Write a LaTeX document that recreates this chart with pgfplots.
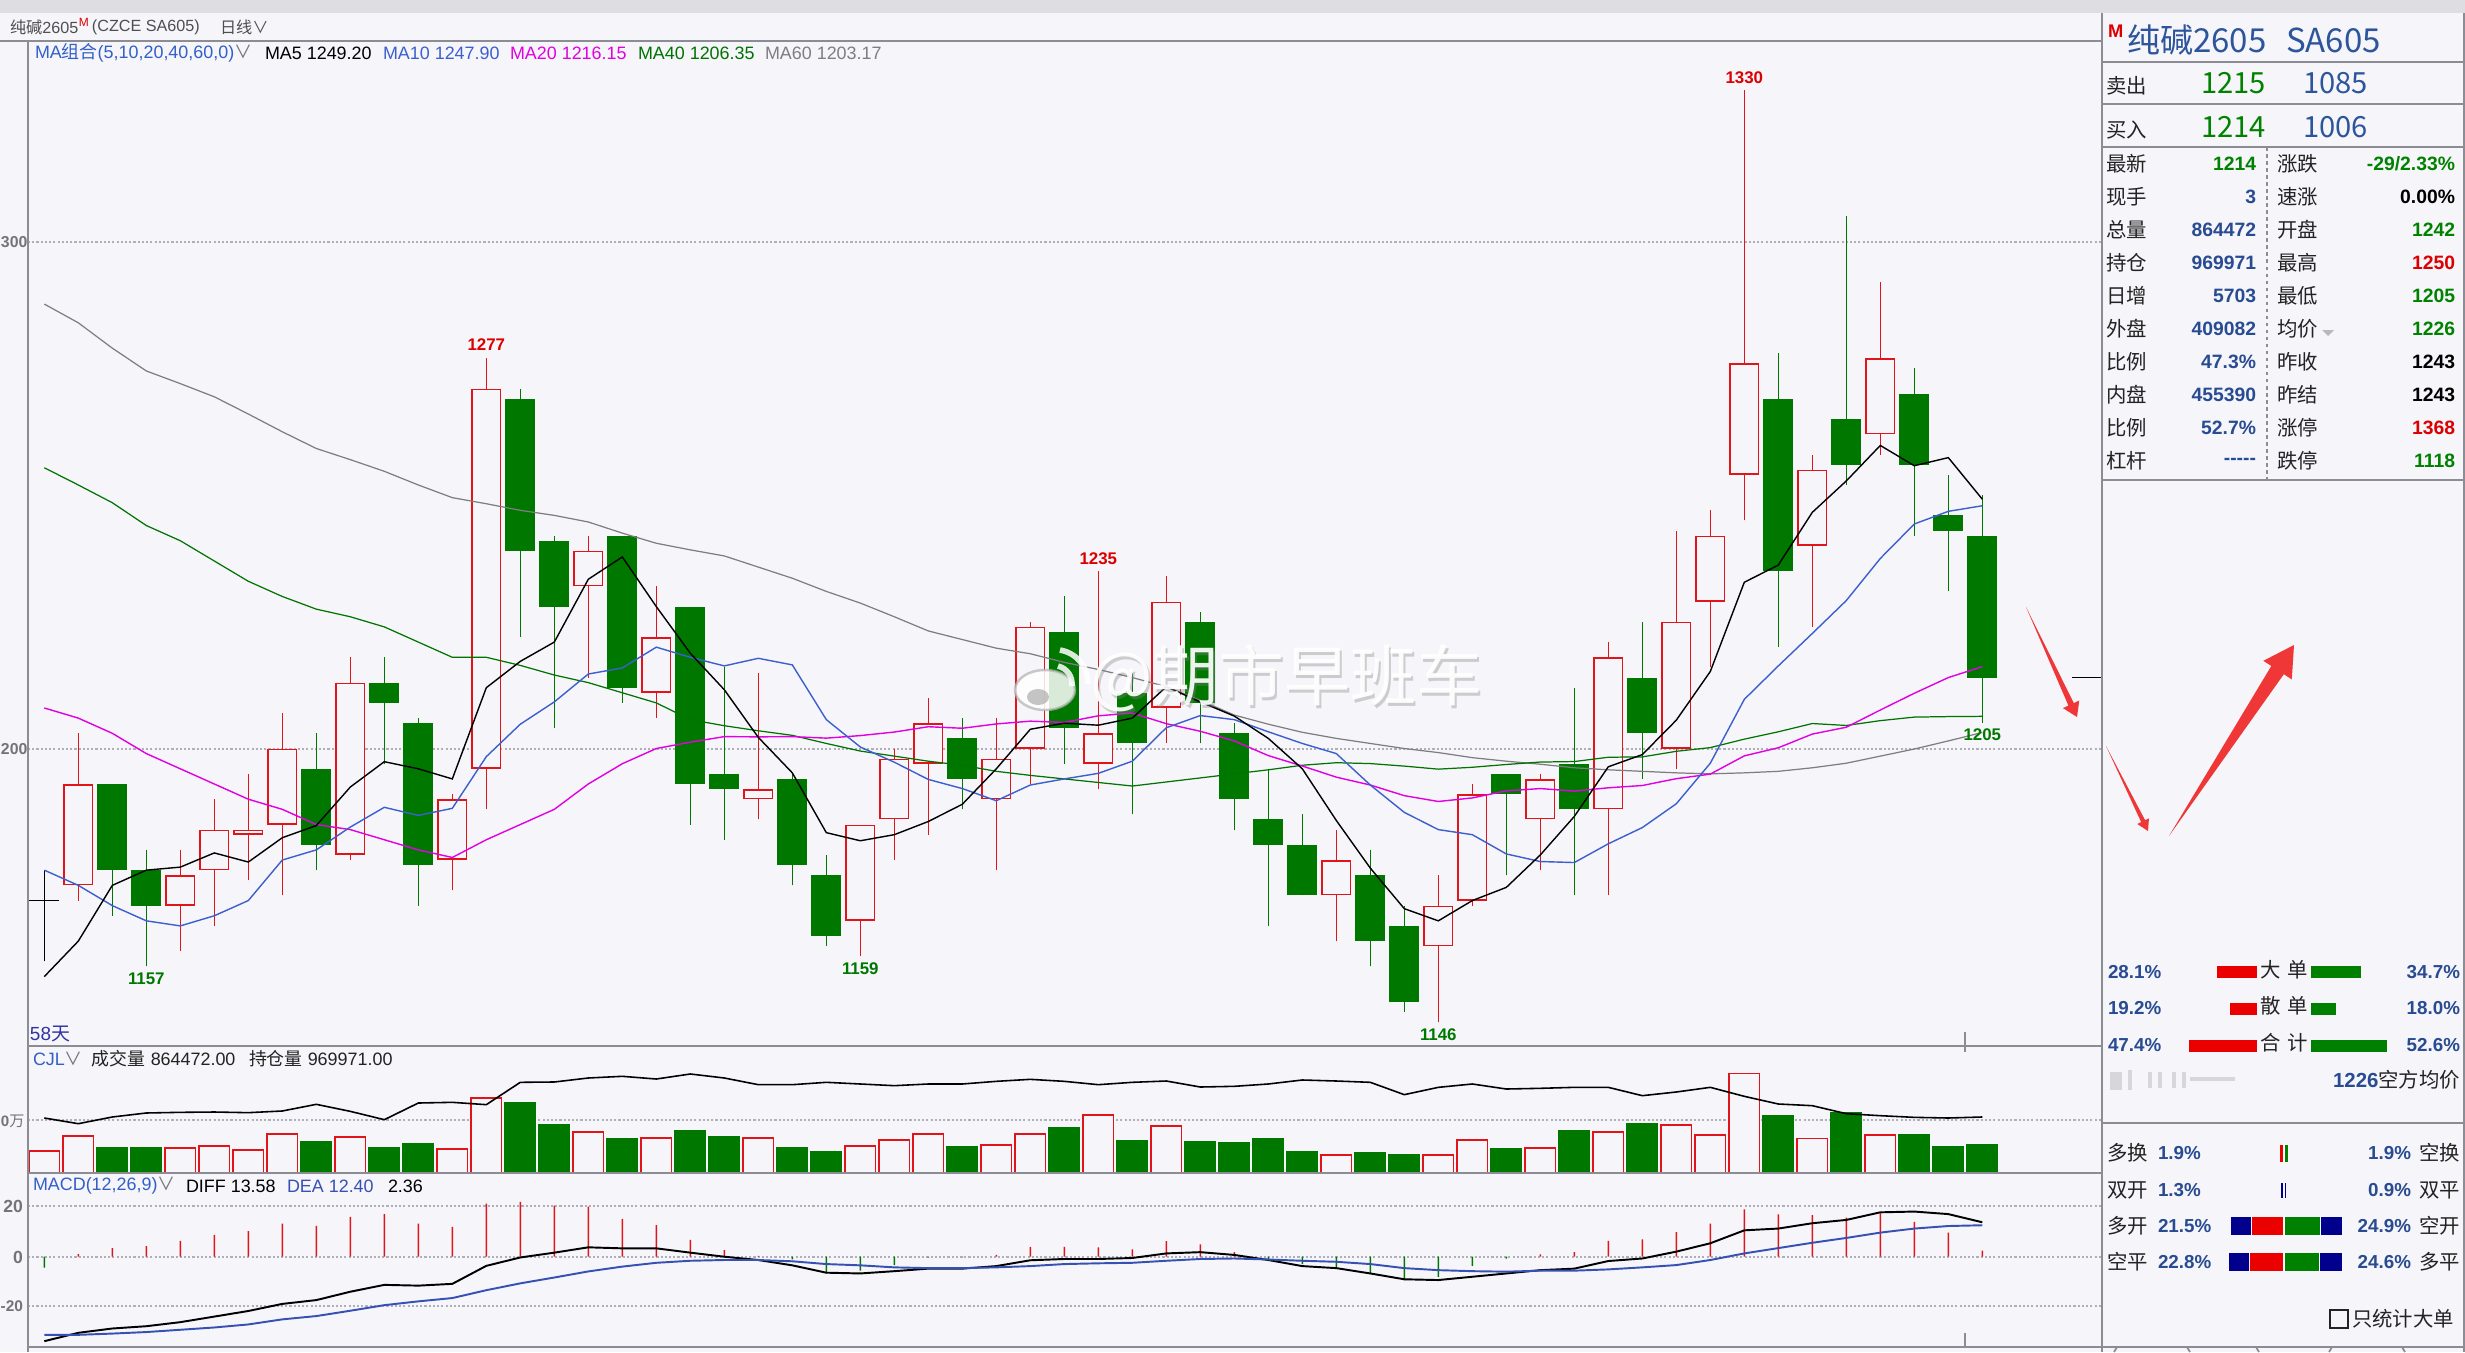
\documentclass[border=0pt]{standalone}
\usepackage{pgfplots}
\pgfplotsset{compat=1.18}
\usepackage{pgfplotstable}
\usepackage{fontspec}
\setmainfont{Liberation Sans}
\newfontfamily\cjk{Noto Sans CJK SC}
\usetikzlibrary{calc}

\definecolor{bg}{RGB}{245,245,250}
\definecolor{topgray}{RGB}{222,222,226}
\definecolor{border}{RGB}{140,140,148}
\definecolor{gridc}{RGB}{175,175,185}
\definecolor{cred}{RGB}{225,20,25}
\definecolor{cgreen}{RGB}{0,120,0}
\definecolor{ma10c}{RGB}{60,95,205}
\definecolor{ma20c}{RGB}{225,0,225}
\definecolor{ma40c}{RGB}{0,115,0}
\definecolor{ma60c}{RGB}{125,125,130}
\definecolor{deac}{RGB}{55,80,180}
\definecolor{legblue}{RGB}{50,95,200}
\definecolor{numblue}{RGB}{40,75,145}
\definecolor{titleblue}{RGB}{45,85,155}
\definecolor{pgreen}{RGB}{0,130,0}
\definecolor{pred}{RGB}{220,0,0}
\definecolor{labc}{RGB}{35,35,35}
\definecolor{tickc}{RGB}{115,115,120}
\definecolor{navy}{RGB}{0,0,140}
\definecolor{arrowred}{RGB}{240,55,55}
\definecolor{barred}{RGB}{235,0,0}
\definecolor{bargreen}{RGB}{0,128,0}

\newcommand\fs[1]{\fontsize{#1}{#1}\selectfont}

% MA lines, open interest, MACD lines
\pgfplotstableread{
k oi dif dea ma5 ma10 ma20 ma40 ma60
1 167.7 -33.3 -30.8 1155 1176 1208 1255.4 1287.7
2 150.4 -30.0 -30.8 1162 1173 1206 1252 1284
3 170.8 -28.3 -30.3 1173 1169 1203 1248.5 1279
4 183.0 -27.4 -29.7 1176 1166 1199 1244 1274.5
5 185.0 -25.8 -28.8 1176.6 1165 1196 1241 1272
6 186.0 -23.6 -27.9 1179.4 1167 1193 1237 1269.4
7 184.0 -21.4 -26.7 1177.6 1170 1190 1233 1266
8 189.1 -18.6 -24.7 1182.4 1178 1188 1230 1262.5
9 209.4 -17.1 -23.4 1184.8 1180 1185 1227.5 1259.2
10 188.0 -13.8 -21.3 1192.4 1184.5 1184 1226 1257
11 162.6 -11.1 -19.1 1197.4 1188.4 1182 1224 1254.7
12 213.4 -11.4 -17.6 1196.0 1186.8 1180 1221 1252
13 215.5 -10.7 -16.3 1194.0 1188.2 1178.5 1218 1249.5
14 208.4 -3.6 -13.2 1212.0 1198.4 1182 1218 1248.3
15 276.5 -0.3 -10.5 1217.2 1204.8 1185 1216.4 1247
16 277.5 1.6 -8.2 1221.0 1209.2 1188 1214.5 1246
17 289.7 3.7 -5.8 1233.4 1214.7 1193 1213 1244.7
18 294.8 3.3 -3.9 1237.8 1215.9 1197 1211 1242.5
19 286.6 3.3 -2.4 1228.0 1220.0 1200 1209 1240.5
20 301.9 1.6 -1.6 1218.8 1218.0 1201.25 1205.7 1239.2
21 289.7 0.0 -1.3 1211.6 1216.3 1202.35 1204.5 1238
22 269.3 -1.3 -1.3 1202.2 1217.8 1202.3 1203.5 1235.8
23 269.3 -3.4 -1.8 1195.2 1216.5 1202.35 1202.6 1233.6
24 276.5 -6.3 -2.9 1183.4 1205.7 1202.05 1201 1231
25 271.4 -6.6 -3.4 1181.8 1200.3 1202.55 1199.5 1228.7
26 266.3 -5.7 -4.2 1183.0 1197.3 1203.25 1198.5 1226
27 271.4 -4.7 -4.5 1185.6 1193.9 1204.3 1197.5 1223.2
28 271.4 -4.7 -4.5 1189.0 1192.1 1204.0 1196.7 1221.5
29 279.5 -3.7 -4.2 1196.0 1189.7 1204.85 1195.5 1219.8
30 285.6 -1.4 -3.7 1203.8 1192.8 1205.4 1194.7 1218.7
31 279.5 -0.9 -2.9 1205.0 1194.0 1205.15 1194 1217
32 269.3 -0.9 -2.6 1204.6 1195.1 1206.45 1193.3 1215.6
33 276.5 -0.5 -2.4 1206.0 1197.5 1207.0 1192.6 1214
34 280.5 1.3 -1.6 1212.2 1204.1 1204.9 1193.4 1212.2
35 262.2 1.8 -0.9 1209.2 1206.5 1203.4 1194.2 1209.5
36 264.3 0.7 -0.7 1206.4 1205.7 1201.5 1195 1206.6
37 271.4 -1.3 -1.1 1202.0 1203.3 1198.6 1195.8 1204.8
38 283.6 -3.7 -1.6 1196.0 1201.0 1196.55 1196.7 1203.2
39 280.5 -4.5 -2.0 1185.8 1199.0 1194.35 1197.2 1202
40 276.5 -6.6 -2.9 1176.4 1192.8 1192.8 1197.03 1201
41 238.9 -8.9 -4.5 1168.4 1187.4 1190.7 1196.53 1200
42 261.2 -9.2 -5.3 1166.0 1184.0 1189.55 1195.93 1199.2
43 271.4 -7.9 -5.7 1170.0 1183.0 1190.25 1196.3 1198.2
44 256.1 -6.6 -5.9 1172.6 1179.2 1191.65 1196.85 1197.5
45 258.2 -5.3 -5.5 1179.0 1177.7 1192.1 1197.33 1196.9
46 261.2 -4.7 -5.5 1186.6 1177.5 1191.6 1197.43 1196.2
47 261.2 -1.7 -5.0 1196.4 1181.2 1192.25 1198.28 1195.8
48 235.8 -0.7 -4.2 1198.8 1184.4 1192.7 1198.35 1195.5
49 247.0 2.0 -3.3 1205.6 1189.1 1194.05 1199.45 1195.2
50 261.2 5.3 -1.3 1215.2 1197.1 1194.95 1200.18 1195
51 233.8 10.4 1.3 1232.8 1209.7 1198.55 1201.85 1195.2
52 210.4 11.1 3.4 1236.2 1216.3 1200.15 1203.3 1195.5
53 205.3 13.2 5.5 1246.6 1222.7 1202.85 1204.93 1196.2
54 180.9 14.5 7.4 1252.8 1229.2 1204.2 1204.55 1197.1
55 174.8 17.5 9.5 1259.8 1237.5 1207.6 1205.5 1198.5
56 169.7 17.8 11.1 1255.8 1244.3 1210.9 1206.2 1199.9
57 167.7 16.8 12.1 1257.4 1246.8 1214.0 1206.3 1201.5
58 170.8 13.58 12.40 1249.2 1247.9 1216.15 1206.35 1203.17
}\tabAll

% rising candles (close > open)
\pgfplotstableread{
k o h l c v
2 1173 1203 1170 1193 113
5 1169 1180 1160 1175 76
6 1176 1190 1165 1184 82
7 1183 1195 1174 1184 70
8 1185 1207 1171 1200 119
10 1179 1218 1178 1213 110
13 1178 1191 1172 1190 73
14 1196 1277 1188 1271 229
17 1232 1242 1214 1239 125
19 1211 1232 1206 1222 107
22 1190 1215 1186 1192 107
25 1166 1185 1159 1185 82
26 1186 1200 1178 1198 101
27 1197 1210 1183 1205 119
29 1190 1206 1176 1198 85
30 1200 1225 1193 1224 119
32 1197 1235 1192 1203 177
34 1208 1234 1201 1229 143
39 1171 1184 1162 1178 55
42 1161 1175 1146 1169 55
43 1170 1193 1169 1191 101
45 1186 1195 1176 1194 76
47 1188 1221 1171 1218 125
49 1200 1243 1196 1225 146
50 1229 1247 1216 1242 116
51 1254 1330 1245 1276 303
53 1240 1258 1224 1255 105
55 1262 1292 1258 1277 116
}\tabUp

% falling candles (close < open)
\pgfplotstableread{
k o h l c v
3 1193 1193 1167 1176 77
4 1176 1180 1157 1169 77
9 1196 1203 1176 1181 95
11 1213 1218 1197 1209 77
12 1205 1206 1169 1177 89
15 1269 1271 1222 1239 214
16 1241 1242 1204 1228 147
18 1242 1242 1209 1212 105
20 1228 1228 1185 1193 129
21 1195 1216 1182 1192 111
23 1194 1195 1173 1177 77
24 1175 1179 1161 1163 65
28 1202 1206 1188 1194 80
31 1223 1230 1197 1204 138
33 1211 1215 1187 1201 99
35 1225 1227 1201 1209 95
36 1203 1205 1184 1190 92
37 1186 1196 1165 1181 105
38 1181 1187 1171 1171 65
40 1175 1180 1157 1162 62
41 1165 1169 1148 1150 56
44 1195 1195 1175 1191 74
46 1197 1212 1171 1188 129
48 1214 1225 1194 1203 150
52 1269 1278 1220 1235 175
54 1265 1305 1252 1256 184
56 1270 1275 1242 1256 117
57 1246 1254 1231 1243 80
58 1242 1250 1205 1214 86.4
}\tabDn

% doji
\pgfplotstableread{
k o h l c v
1 1170 1176 1158 1170 68
}\tabDoji

% MACD histogram
\pgfplotstableread{
k m
2 1.05
3 3.4
4 4.2
5 6.2
6 8.6
7 10.1
8 13.0
9 12.2
10 15.7
11 16.8
12 13.0
13 11.8
14 20.9
15 21.6
16 20.1
17 19.7
18 14.9
19 12.5
20 6.6
21 2.6
22 0.3
29 0.7
30 3.9
31 3.9
32 3.7
33 2.9
34 6.1
35 4.9
36 1.8
45 0.9
46 1.8
47 6.2
48 6.8
49 9.7
50 13.0
51 18.7
52 16.7
53 16.4
54 15.4
55 17.1
56 13.7
57 9.5
58 2.36
}\tabMp
\pgfplotstableread{
k m
1 -4.3
23 -1.0
24 -6.6
25 -5.5
26 -3.3
27 -0.4
28 -0.3
37 -1.0
38 -2.9
39 -4.6
40 -6.6
41 -9.2
42 -7.9
43 -3.6
44 -0.8
}\tabMn

\pgfplotsset{
  wick/.style={only marks, mark=*, mark size=0pt, mark options={draw=none, fill=none}, forget plot,
    error bars/.cd, y dir=plus, y explicit, error mark=none,
    error bar style={draw=#1, line width=0.45pt}},
  body/.style 2 args={only marks, mark=*, mark size=0pt, mark options={draw=none, fill=none}, forget plot,
    error bars/.cd, y dir=plus, y explicit, error mark=none,
    error bar style={draw=#1, line width=#2}},
}

\newcommand\gbar[5]{\addplot[fill=#1,draw=none] coordinates {(#2,#3) (#4,#3) (#4,#5) (#2,#5)};}

\newcommand\taparrow[5]{%
  \coordinate (aT) at #1; \coordinate (aH) at #2;
  \coordinate (aB) at ($(aH)!#5!(aT)$);
  \fill[arrowred] (aT) -- ($(aB)!#3!90:(aH)$) -- ($(aB)!#4!90:(aH)$) -- (aH) -- ($(aB)!#4!-90:(aH)$) -- ($(aB)!#3!-90:(aH)$) -- cycle;}

\begin{document}
\begin{tikzpicture}[x=0.1mm,y=-0.1mm, every node/.style={inner sep=0pt, outer sep=0pt}]
\fill[bg] (0,0) rectangle (2465,1352);
\fill[topgray] (0,0) rectangle (2465,13);

\coordinate (pSW) at (28,1046);
\coordinate (vSW) at (28,1173);
\coordinate (mSW) at (28,1347);
\coordinate (gSW) at (2103,1352);

% dashed grid lines
\begin{scope}[gridc, dash pattern=on 0.6pt off 0.6pt, line width=0.3pt]
\draw (28,242) -- (2102,242);
\draw (28,749) -- (2102,749);
\draw (28,1120) -- (2102,1120);
\draw (28,1206) -- (2102,1206);
\draw (28,1257) -- (2102,1257);
\draw (28,1306) -- (2102,1306);
\end{scope}

% ---------------- main price panel
\begin{axis}[at={(pSW)}, anchor=south west, scale only axis,
  width=207.4mm, height=100.5mm, xmin=0.52, xmax=61.52, ymin=1141.3, ymax=1339.6,
  hide axis, clip=false]
% wicks
\addplot[wick=cred] table[x=k, y=l, y error expr=\thisrow{h}-\thisrow{l}] {\tabUp};
\addplot[wick=cgreen] table[x=k, y=l, y error expr=\thisrow{h}-\thisrow{l}] {\tabDn};
\addplot[wick=black] table[x=k, y=l, y error expr=\thisrow{h}-\thisrow{l}] {\tabDoji};
% bodies
\addplot[body={cgreen}{8.54pt}] table[x=k, y=c, y error expr=\thisrow{o}-\thisrow{c}] {\tabDn};
\addplot[body={cred}{8.54pt}] table[x=k, y=o, y error expr=\thisrow{c}-\thisrow{o}] {\tabUp};
\addplot[body={bg}{7.64pt}] table[x=k, y expr=\thisrow{o}+0.31, y error expr=\thisrow{c}-\thisrow{o}-0.62] {\tabUp};
\addplot[body={black}{8.54pt}] table[x=k, y expr=\thisrow{o}-0.15, y error expr=0.3] {\tabDoji};
% moving averages
\addplot[ma60c, line width=0.35pt] table[x=k,y=ma60]{\tabAll};
\addplot[ma40c, line width=0.35pt] table[x=k,y=ma40]{\tabAll};
\addplot[ma20c, line width=0.4pt] table[x=k,y=ma20]{\tabAll};
\addplot[ma10c, line width=0.4pt] table[x=k,y=ma10]{\tabAll};
\addplot[black, line width=0.4pt] table[x=k,y=ma5]{\tabAll};
\draw[black, line width=0.5pt] (axis cs:60.65,1214) -- (axis cs:61.52,1214);
\begin{scope}[font=\fs{4.8pt}\bfseries]
\node[text=pred] at (axis cs:14,1279.6) {1277};
\node[text=cgreen] at (axis cs:4,1154.5) {1157};
\node[text=cgreen] at (axis cs:25,1156.5) {1159};
\node[text=pred] at (axis cs:32,1237.5) {1235};
\node[text=cgreen] at (axis cs:42,1143.6) {1146};
\node[text=pred] at (axis cs:51,1332.3) {1330};
\node[text=cgreen] at (axis cs:58,1202.8) {1205};
\end{scope}
\end{axis}

% ---------------- volume panel
\begin{axis}[at={(vSW)}, anchor=south west, scale only axis,
  width=207.4mm, height=12.7mm, xmin=0.52, xmax=61.52, ymin=0, ymax=387.2,
  hide axis, clip=false]
\addplot[ybar, bar width=0.9, bar shift=0pt, draw=cgreen, fill=cgreen, line width=0.45pt] table[x=k,y=v]{\tabDn};
\addplot[ybar, bar width=0.9, bar shift=0pt, draw=cred, fill=bg, line width=0.45pt] table[x=k,y=v]{\tabUp};
\addplot[ybar, bar width=0.9, bar shift=0pt, draw=cred, fill=bg, line width=0.45pt] table[x=k,y=v]{\tabDoji};
\addplot[black, line width=0.45pt] table[x=k,y=oi]{\tabAll};
\end{axis}

% ---------------- MACD panel
\begin{axis}[at={(mSW)}, anchor=south west, scale only axis,
  width=207.4mm, height=17.4mm, xmin=0.52, xmax=61.52, ymin=-35.6, ymax=33.0,
  hide axis, clip=false]
\addplot[ybar, bar width=0.4pt, bar shift=0pt, fill=cred, draw=none] table[x=k,y=m]{\tabMp};
\addplot[ybar, bar width=0.4pt, bar shift=0pt, fill=cgreen, draw=none] table[x=k,y=m]{\tabMn};
\addplot[black, line width=0.55pt] table[x=k,y=dif]{\tabAll};
\addplot[deac, line width=0.55pt] table[x=k,y=dea]{\tabAll};
\end{axis}

% ---------------- right panel gauges
\begin{axis}[at={(gSW)}, anchor=south west, scale only axis,
  width=36.2mm, height=41.2mm, xmin=2103, xmax=2465, ymin=940, ymax=1352,
  y dir=reverse, hide axis, clip=false]
\gbar{barred}{2217}{966}{2257}{978}
\gbar{bargreen}{2311}{966}{2361}{978}
\gbar{barred}{2230}{1003}{2257}{1015}
\gbar{bargreen}{2311}{1003}{2336}{1015}
\gbar{barred}{2189}{1040}{2257}{1052}
\gbar{bargreen}{2311}{1040}{2387}{1052}
\gbar{barred}{2280}{1145}{2283}{1162}
\gbar{bargreen}{2284.5}{1145}{2287.5}{1162}
\gbar{navy}{2281}{1183}{2282.6}{1198}
\gbar{navy}{2284.6}{1183}{2286.2}{1198}
\gbar{navy}{2231}{1217}{2251}{1235}
\gbar{barred}{2252}{1217}{2283}{1235}
\gbar{bargreen}{2285}{1217}{2320}{1235}
\gbar{navy}{2321}{1217}{2342}{1235}
\gbar{navy}{2229}{1253}{2249}{1271}
\gbar{barred}{2250}{1253}{2283}{1271}
\gbar{bargreen}{2285}{1253}{2319}{1271}
\gbar{navy}{2320}{1253}{2342}{1271}
\end{axis}

% ---------------- borders
\begin{scope}[border, line width=0.5pt]
\draw (0,41) -- (2102,41);
\draw (28,41) -- (28,1352);
\draw (28,1046) -- (2102,1046);
\draw (28,1173) -- (2102,1173);
\draw (28,1347) -- (2102,1347);
\draw (2102,13) -- (2102,1352);
\draw (2464,13) -- (2464,1352);
\draw (2102,62) -- (2465,62);
\draw (2102,104) -- (2465,104);
\draw (2102,147) -- (2465,147);
\draw (2102,480) -- (2465,480);
\draw (2102,1123) -- (2465,1123);
\draw (2102,1347) -- (2465,1347);
\draw (2117,1347) -- (2114,1352);
\draw (2187,1347) -- (2190,1352);
\draw (2256,1347) -- (2259,1352);
\draw (2332,1347) -- (2329,1352);
\draw (2402,1347) -- (2405,1352);
\draw[dash pattern=on 1pt off 1pt] (2267,147) -- (2267,480);
\draw (1965,1032) -- (1965,1052);
\draw (1965,1333) -- (1965,1347);
\end{scope}

% ---------------- left texts
\node[anchor=west] at (10,27) {\fs{4.6pt}\color{labc!80}{\cjk 纯碱}2605};
\node[anchor=west] at (79,22) {\fs{3.4pt}\color{pred}M};
\node[anchor=west] at (92,27) {\fs{4.6pt}\color{labc!80}(CZCE SA605)};
\node[anchor=west] at (220,27) {\fs{4.6pt}\color{labc!80}{\cjk 日线∨}};

\node[anchor=west] at (35,53) {\fs{5.1pt}\color{legblue}MA{\cjk 组合}(5,10,20,40,60,0){\cjk\color{tickc}∨}};
\node[anchor=west] at (265,53) {\fs{5.1pt}\color{black}MA5 1249.20};
\node[anchor=west] at (383,53) {\fs{5.1pt}\color{ma10c}MA10 1247.90};
\node[anchor=west] at (510,53) {\fs{5.1pt}\color{ma20c}MA20 1216.15};
\node[anchor=west] at (638,53) {\fs{5.1pt}\color{ma40c}MA40 1206.35};
\node[anchor=west] at (765,53) {\fs{5.1pt}\color{ma60c}MA60 1203.17};

\node[anchor=west] at (30,1034) {\fs{5.4pt}\color{navy!80}58{\cjk 天}};

\node[anchor=west] at (33,1059) {\fs{5.1pt}\color{legblue}CJL{\cjk\color{tickc}∨}};
\node[anchor=west] at (92,1059) {\fs{5.1pt}\color{labc}{\cjk 成交量} 864472.00};
\node[anchor=west] at (249,1059) {\fs{5.1pt}\color{labc}{\cjk 持仓量} 969971.00};

\node[anchor=west] at (33,1186) {\fs{5.1pt}\color{legblue}MACD(12,26,9){\cjk\color{tickc}∨}};
\node[anchor=west] at (186,1186) {\fs{5.1pt}\color{black}DIFF 13.58};
\node[anchor=west] at (287,1186) {\fs{5.1pt}\color{deac}DEA 12.40};
\node[anchor=west] at (388,1186) {\fs{5.1pt}\color{black}2.36};

% left tick labels (the visible part of the reference's clipped labels)
\node[anchor=west] at (1,242) {\fs{4.5pt}\bfseries\color{tickc}300};
\node[anchor=west] at (1,749) {\fs{4.5pt}\bfseries\color{tickc}200};
\node[anchor=west] at (1,1121) {\fs{4.3pt}\color{tickc}\bfseries 0{\cjk\mdseries 万}};
\begin{scope}[every node/.append style={anchor=east}]
\node at (23,1206) {\fs{5pt}\bfseries\color{tickc}20};
\node at (23,1257) {\fs{5pt}\bfseries\color{tickc}0};
\node at (23,1306) {\fs{4.4pt}\bfseries\color{tickc}-20};
\end{scope}

% ---------------- right panel texts
\node[anchor=west] at (2108,31) {\fs{5.2pt}\bfseries\color{pred}M};
\node[anchor=west] at (2127,40) {\fs{9.4pt}\color{titleblue}\cjk 纯碱2605};
\node[anchor=west] at (2286,40) {\fs{9.4pt}\color{titleblue}\cjk SA605};
\node[anchor=west] at (2106,86) {\fs{5.8pt}\color{labc}\cjk 卖出};
\node[anchor=east] at (2266,83) {\fs{8.3pt}\color{pgreen}\cjk 1215};
\node[anchor=east] at (2368,83) {\fs{8.3pt}\color{titleblue}\cjk 1085};
\node[anchor=west] at (2106,130) {\fs{5.8pt}\color{labc}\cjk 买入};
\node[anchor=east] at (2266,127) {\fs{8.3pt}\color{pgreen}\cjk 1214};
\node[anchor=east] at (2368,127) {\fs{8.3pt}\color{titleblue}\cjk 1006};

\begin{scope}[every node/.append style={font=\fs{5.8pt}\cjk\color{labc}, anchor=west}]
\node at (2106,164) {最新}; \node at (2106,197) {现手}; \node at (2106,230) {总量};
\node at (2106,263) {持仓}; \node at (2106,296) {日增}; \node at (2106,329) {外盘};
\node at (2106,362) {比例}; \node at (2106,395) {内盘}; \node at (2106,428) {比例};
\node at (2106,461) {杠杆};
\node at (2277,164) {涨跌}; \node at (2277,197) {速涨}; \node at (2277,230) {开盘};
\node at (2277,263) {最高}; \node at (2277,296) {最低}; \node at (2277,329) {均价};
\node at (2277,362) {昨收}; \node at (2277,395) {昨结}; \node at (2277,428) {涨停};
\node at (2277,461) {跌停};
\end{scope}
\fill[gray!55] (2322,330) -- (2334,330) -- (2328,336) -- cycle;
\begin{scope}[every node/.append style={font=\fs{5.5pt}\bfseries, anchor=east}]
\node[text=pgreen] at (2256,164) {1214};
\node[text=numblue] at (2256,197) {3};
\node[text=numblue] at (2256,230) {864472};
\node[text=numblue] at (2256,263) {969971};
\node[text=numblue] at (2256,296) {5703};
\node[text=numblue] at (2256,329) {409082};
\node[text=numblue] at (2256,362) {47.3\%};
\node[text=numblue] at (2256,395) {455390};
\node[text=numblue] at (2256,428) {52.7\%};
\node[text=numblue] at (2256,461) {-{}-{}-{}-{}-};
\node[text=pgreen] at (2455,164) {-29/2.33\%};
\node[text=black] at (2455,197) {0.00\%};
\node[text=pgreen] at (2455,230) {1242};
\node[text=pred] at (2455,263) {1250};
\node[text=pgreen] at (2455,296) {1205};
\node[text=pgreen] at (2455,329) {1226};
\node[text=black] at (2455,362) {1243};
\node[text=black] at (2455,395) {1243};
\node[text=pred] at (2455,428) {1368};
\node[text=pgreen] at (2455,461) {1118};
\end{scope}

% lower right
\begin{scope}[every node/.append style={font=\fs{5.35pt}\bfseries\color{numblue}}]
\node[anchor=west] at (2108,972) {28.1\%};
\node[anchor=west] at (2108,1008) {19.2\%};
\node[anchor=west] at (2108,1045) {47.4\%};
\node[anchor=east] at (2460,972) {34.7\%};
\node[anchor=east] at (2460,1008) {18.0\%};
\node[anchor=east] at (2460,1045) {52.6\%};
\node[anchor=west] at (2158,1153) {1.9\%};
\node[anchor=west] at (2158,1190) {1.3\%};
\node[anchor=west] at (2158,1226) {21.5\%};
\node[anchor=west] at (2158,1262) {22.8\%};
\node[anchor=east] at (2411,1153) {1.9\%};
\node[anchor=east] at (2411,1190) {0.9\%};
\node[anchor=east] at (2411,1226) {24.9\%};
\node[anchor=east] at (2411,1262) {24.6\%};
\end{scope}
\begin{scope}[every node/.append style={font=\fs{5.8pt}\cjk\color{labc}}]
\node at (2284,970) {大\hspace{1.7pt}单};
\node at (2284,1006) {散\hspace{1.7pt}单};
\node at (2284,1043) {合\hspace{1.7pt}计};
\node[anchor=west] at (2107,1153) {多换};
\node[anchor=west] at (2107,1190) {双开};
\node[anchor=west] at (2107,1226) {多开};
\node[anchor=west] at (2107,1262) {空平};
\node[anchor=west] at (2419,1153) {空换};
\node[anchor=west] at (2419,1190) {双平};
\node[anchor=west] at (2419,1226) {空开};
\node[anchor=west] at (2419,1262) {多平};
\node[anchor=west] at (2352,1319) {只统计大单};
\node[anchor=east] at (2460,1080) {{\rmfamily\bfseries\color{numblue}1226}空方均价};
\end{scope}
\draw[labc, line width=0.4pt] (2330,1310) rectangle (2348,1328);
% blurred element
\begin{scope}[gray, opacity=0.25]
\fill (2110,1072) rectangle (2122,1090);
\fill (2128,1070) rectangle (2132,1090);
\fill (2148,1072) rectangle (2152,1088);
\fill (2158,1072) rectangle (2162,1088);
\fill (2172,1072) rectangle (2176,1088);
\fill (2182,1072) rectangle (2186,1088);
\fill (2190,1077) rectangle (2235,1081);
\end{scope}

% ---------------- watermark
\begin{scope}
\fill[white, opacity=0.85] (1045,690) ellipse [x radius=30, y radius=20];
\draw[gray!60, opacity=0.7, line width=0.7pt] (1045,690) ellipse [x radius=30, y radius=20];
\fill[gray!65, opacity=0.7] (1038,697) ellipse [x radius=11, y radius=8];
\draw[white, opacity=0.85, line width=1.6pt] (1058,666) to[bend left=40] (1072,686);
\draw[white, opacity=0.85, line width=1.6pt] (1060,650) to[bend left=40] (1088,684);
\node[anchor=west, opacity=0.35] at (1092,681) {\fs{18.8pt}\cjk\color{gray}@期市早班车};
\node[anchor=west, opacity=0.92] at (1090,678) {\fs{18.8pt}\cjk\color{white}@期市早班车};
\end{scope}

% ---------------- arrows
\taparrow{(2026,607)}{(2077,717)}{0.3mm}{0.9mm}{1.4mm}
\taparrow{(2106,746)}{(2148,831)}{0.22mm}{0.65mm}{1.1mm}
\taparrow{(2169,836)}{(2294,645)}{0.75mm}{1.7mm}{3.0mm}

\pgfresetboundingbox
\useasboundingbox (0,0) rectangle (2465,1352);
\end{tikzpicture}
\end{document}
